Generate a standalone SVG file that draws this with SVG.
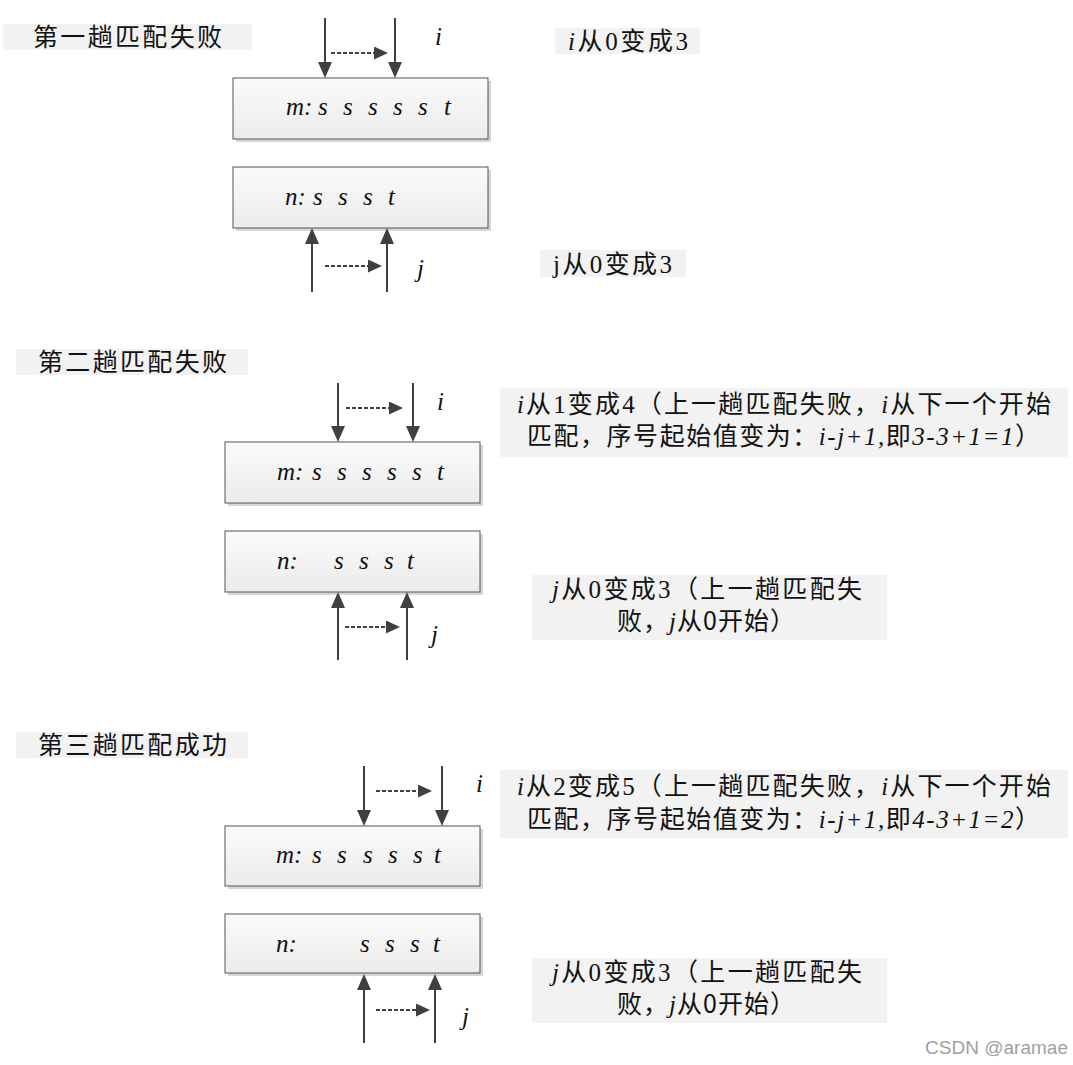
<svg xmlns="http://www.w3.org/2000/svg" width="1073" height="1065" viewBox="0 0 1073 1065">
<defs>
<linearGradient id="boxg" x1="0" y1="0" x2="0" y2="1">
<stop offset="0" stop-color="#fbfbfb"/>
<stop offset="1" stop-color="#ebebeb"/>
</linearGradient>
<marker id="ah" markerUnits="userSpaceOnUse" markerWidth="17" markerHeight="14" refX="5" refY="7" orient="auto">
<path d="M0,0 L16,7 L0,14 z" fill="#404040"/>
</marker>
<marker id="dh" markerUnits="userSpaceOnUse" markerWidth="15" markerHeight="13" refX="4" refY="6.5" orient="auto">
<path d="M0,0 L14,6.5 L0,13 z" fill="#404040"/>
</marker>
<style>
.bg{fill:#f2f2f2}
.shadow{fill:#d6d6d6}
.box{fill:url(#boxg);stroke:#555;stroke-width:1}
.arr{stroke:#404040;stroke-width:2;fill:none;marker-end:url(#ah)}
.dash{stroke:#404040;stroke-width:2;stroke-dasharray:4 2;fill:none;marker-end:url(#dh)}
.zh{font-family:'Liberation Serif','Noto Sans CJK SC',serif;font-size:25px;fill:#111}
.it{font-family:'Liberation Serif',serif;font-style:italic;font-size:25px;fill:#111}
.i{font-style:italic}
.sans{font-family:'Noto Sans CJK SC',sans-serif}
.wm{font-family:'Liberation Sans',sans-serif;font-size:19px;fill:#a0a0a0}
</style>
</defs>

<!-- Section 1 -->
<g id="label1"><rect class="bg" x="3" y="24" width="249" height="26"/><text class="zh" x="33" y="46" textLength="189">第一趟匹配失败</text></g>
<g id="m1"><rect class="shadow" x="236" y="81" width="255" height="61"/><rect class="box" x="233" y="78" width="255" height="61"/>
<text class="it" y="115"><tspan x="286">m:</tspan><tspan x="318">s</tspan><tspan x="343">s</tspan><tspan x="368">s</tspan><tspan x="393">s</tspan><tspan x="418">s</tspan><tspan x="444">t</tspan></text></g>
<g id="n1"><rect class="shadow" x="236" y="170" width="255" height="61"/><rect class="box" x="233" y="167" width="255" height="61"/>
<text class="it" y="205"><tspan x="285">n:</tspan><tspan x="313">s</tspan><tspan x="338">s</tspan><tspan x="363">s</tspan><tspan x="388">t</tspan></text></g>
<g id="i1"><text class="it" x="435" y="45">i</text></g>
<g id="j1"><text class="it" x="417" y="277">j</text></g>
<g id="note1a"><rect class="bg" x="555" y="28" width="145" height="26"/><text class="zh" x="568" y="50" textLength="120"><tspan class="i">i</tspan>从0变成3</text></g>
<g id="note1b"><rect class="bg" x="540" y="250" width="146" height="27"/><text class="zh" x="553" y="273" textLength="119">j从0变成3</text></g>

<!-- Section 2 -->
<g id="label2"><rect class="bg" x="16" y="349" width="232" height="26"/><text class="zh" x="38" y="371" textLength="189">第二趟匹配失败</text></g>
<g id="m2"><rect class="shadow" x="228" y="445" width="255" height="61"/><rect class="box" x="225" y="442" width="255" height="61"/>
<text class="it" y="480"><tspan x="277">m:</tspan><tspan x="312">s</tspan><tspan x="337">s</tspan><tspan x="362">s</tspan><tspan x="387">s</tspan><tspan x="412">s</tspan><tspan x="437">t</tspan></text></g>
<g id="n2"><rect class="shadow" x="228" y="534" width="255" height="61"/><rect class="box" x="225" y="531" width="255" height="61"/>
<text class="it" y="569"><tspan x="277">n:</tspan><tspan x="334">s</tspan><tspan x="359">s</tspan><tspan x="384">s</tspan><tspan x="407">t</tspan></text></g>
<g id="i2"><text class="it" x="437" y="410">i</text></g>
<g id="j2"><text class="it" x="431" y="643">j</text></g>
<g id="note2a"><rect class="bg" x="500" y="388" width="568" height="69"/>
<text class="zh" x="517" y="413" textLength="534"><tspan class="i">i</tspan>从1变成4（上一趟匹配失败，<tspan class="i">i</tspan>从下一个开始</text>
<text class="zh" x="527" y="445" textLength="513">匹配，序号起始值变为：<tspan class="i">i-j+1,</tspan>即<tspan class="i">3-3+1=1</tspan>）</text></g>
<g id="note2b"><rect class="bg" x="532" y="575" width="355" height="65"/>
<text class="zh" x="552" y="598" textLength="310"><tspan class="i">j</tspan>从0变成3（上一趟匹配失</text>
<text class="zh" x="617" y="630" textLength="178">败，<tspan class="i">j</tspan>从<tspan class="sans">0</tspan>开始）</text></g>

<!-- Section 3 -->
<g id="label3"><rect class="bg" x="16" y="732" width="232" height="26"/><text class="zh" x="38" y="754" textLength="189">第三趟匹配成功</text></g>
<g id="m3"><rect class="shadow" x="228" y="829" width="255" height="60"/><rect class="box" x="225" y="826" width="255" height="60"/>
<text class="it" y="863"><tspan x="276">m:</tspan><tspan x="312">s</tspan><tspan x="337">s</tspan><tspan x="363">s</tspan><tspan x="388">s</tspan><tspan x="413">s</tspan><tspan x="434">t</tspan></text></g>
<g id="n3"><rect class="shadow" x="228" y="917" width="255" height="59"/><rect class="box" x="225" y="914" width="255" height="59"/>
<text class="it" y="952"><tspan x="276">n:</tspan><tspan x="360">s</tspan><tspan x="385">s</tspan><tspan x="410">s</tspan><tspan x="433">t</tspan></text></g>
<g id="i3"><text class="it" x="476" y="792">i</text></g>
<g id="j3"><text class="it" x="462" y="1025">j</text></g>
<g id="note3a"><rect class="bg" x="500" y="770" width="568" height="68"/>
<text class="zh" x="517" y="795" textLength="534"><tspan class="i">i</tspan>从2变成5（上一趟匹配失败，<tspan class="i">i</tspan>从下一个开始</text>
<text class="zh" x="527" y="828" textLength="513">匹配，序号起始值变为：<tspan class="i">i-j+1,</tspan>即<tspan class="i">4-3+1=2</tspan>）</text></g>
<g id="note3b"><rect class="bg" x="532" y="958" width="355" height="65"/>
<text class="zh" x="552" y="981" textLength="310"><tspan class="i">j</tspan>从0变成3（上一趟匹配失</text>
<text class="zh" x="617" y="1013" textLength="178">败，<tspan class="i">j</tspan>从<tspan class="sans">0</tspan>开始）</text></g>

<g id="connectors">
<line class="arr" x1="325" y1="18" x2="325" y2="67"/>
<line class="arr" x1="395" y1="18" x2="395" y2="67"/>
<line class="dash" x1="331" y1="53" x2="378" y2="53"/>
<line class="arr" x1="312" y1="292" x2="312" y2="239"/>
<line class="arr" x1="387" y1="292" x2="387" y2="239"/>
<line class="dash" x1="325" y1="266" x2="372" y2="266"/>
<line class="arr" x1="338" y1="383" x2="338" y2="431"/>
<line class="arr" x1="413" y1="383" x2="413" y2="431"/>
<line class="dash" x1="346" y1="408" x2="393" y2="408"/>
<line class="arr" x1="338" y1="660" x2="338" y2="603"/>
<line class="arr" x1="407" y1="660" x2="407" y2="603"/>
<line class="dash" x1="345" y1="627" x2="390" y2="627"/>
<line class="arr" x1="364" y1="766" x2="364" y2="815"/>
<line class="arr" x1="442" y1="766" x2="442" y2="815"/>
<line class="dash" x1="376" y1="791" x2="422" y2="791"/>
<line class="arr" x1="364" y1="1043" x2="364" y2="985"/>
<line class="arr" x1="435" y1="1043" x2="435" y2="985"/>
<line class="dash" x1="376" y1="1010" x2="420" y2="1010"/>
</g>

<text class="wm" x="925" y="1054" textLength="143">CSDN @aramae</text>
</svg>
